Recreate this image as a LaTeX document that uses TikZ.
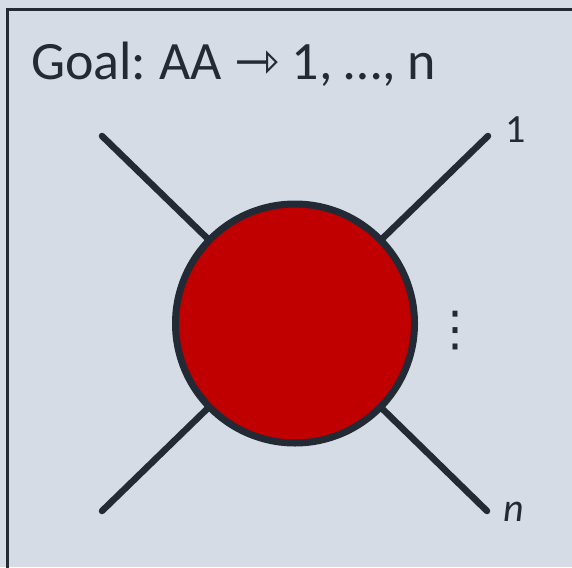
\documentclass[tikz,border=0pt]{standalone}
\usepackage{fontspec}
\setmainfont{Carlito}
\newfontfamily\symfont{DejaVu Sans}
\usetikzlibrary{positioning}
\definecolor{slate}{HTML}{D6DCE5}
\definecolor{ink}{HTML}{222A35}
\definecolor{blobred}{HTML}{C00000}

\begin{document}
\begin{tikzpicture}[x=1pt, y=-1pt,
    leg/.style={draw=ink, line width=6.5pt, line cap=round},
    blob/.style={circle, draw=ink, fill=blobred, line width=7pt, minimum size=239pt, inner sep=0pt},
    lbl/.style={text=ink, font=\fontsize{40}{40}\selectfont, inner sep=0pt}]
    % Hintergrund
    \fill[slate] (0,0) rectangle (572,567);
    \useasboundingbox (0,0) rectangle (572,567);
    % Rahmen
    \draw[ink, line width=2.5pt] (7.5,580) -- (7.5,9.5) -- (580,9.5);
    % Titel
    \node[lbl, font=\fontsize{54}{60}\selectfont, anchor=base west] (goal) at (31,80) {Goal:\kern-3pt{} AA {\symfont ⇾} 1, …, n};
    % Beine
    \coordinate (c) at (295,323.5);
    \coordinate (tl) at (102,136);
    \coordinate (tr) at (488,136);
    \coordinate (bl) at (102,511);
    \coordinate (br) at (487,511);
    \foreach \e in {tl,tr,bl,br} \draw[leg] (c) -- (\e);
    % Blob
    \node[blob] (amp) at (c) {};
    % Beschriftung
    \node[lbl] (one) at (516,130) {1};
    \node[lbl] (enn) at (514,512) {\itshape n};
    \node[lbl, font=\fontsize{48}{48}\selectfont] (dots) at (455,331) {\symfont ⋮};
\end{tikzpicture}
\end{document}
